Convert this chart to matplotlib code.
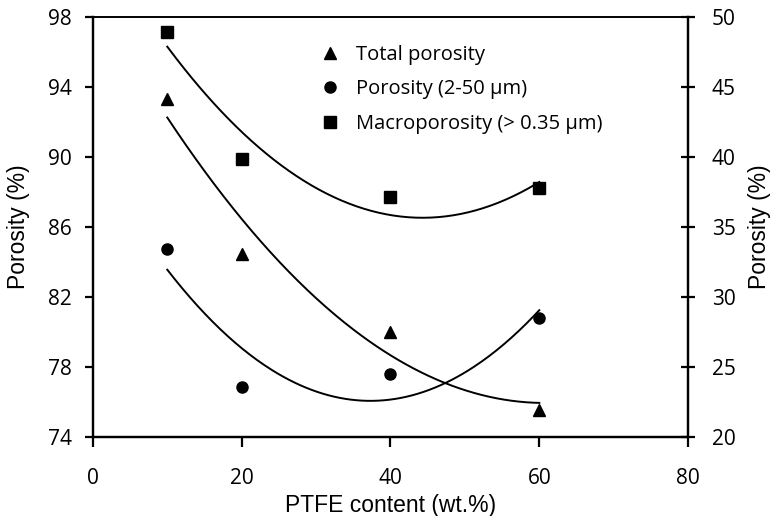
import numpy as np
import matplotlib
matplotlib.use("Agg")
import matplotlib.pyplot as plt

# PTFE content (wt.%)
ptfe = [10, 20, 40, 60]
# left axis
total_porosity = [93.3, 84.45, 80.0, 75.55]
# right axis
porosity_2_50 = [33.4, 23.6, 24.5, 28.5]
macroporosity = [48.9, 39.8, 37.15, 37.8]

tick_font = "Open Sans"
label_font = "Liberation Sans"


def trend(ax, x, y):
    # excel style 2nd order polynomial trendline
    c = np.polyfit(x, y, 2)
    xs = np.linspace(min(x), max(x), 200)
    ax.plot(xs, np.polyval(c, xs), color="black", lw=1.4, zorder=2)


fig = plt.figure(figsize=(7.74, 5.16), dpi=100)
ax = fig.add_axes([0.120, 0.153, 0.769, 0.815])
ax2 = ax.twinx()

h1, = ax.plot(ptfe, total_porosity, "^", color="black", ms=8.5, ls="none", label="Total porosity", zorder=3)
trend(ax, ptfe, total_porosity)
h2, = ax2.plot(ptfe, porosity_2_50, "o", color="black", ms=8, ls="none", label="Porosity (2-50 \u03bcm)", zorder=3)
trend(ax2, ptfe, porosity_2_50)
h3, = ax2.plot(ptfe, macroporosity, "s", color="black", ms=8, ls="none", label="Macroporosity (> 0.35 \u03bcm)", zorder=3)
trend(ax2, ptfe, macroporosity)

ax.set_xlim(0, 80)
ax.set_ylim(74, 98)
ax2.set_ylim(20, 50)
ax.set_xticks([0, 20, 40, 60, 80])
ax.set_yticks(np.arange(74, 99, 4))
ax2.set_yticks(np.arange(20, 51, 5))

for a in (ax, ax2):
    for s in a.spines.values():
        s.set_linewidth(1.6)
    a.spines["top"].set_linewidth(1.2)

ax.tick_params(axis="x", direction="out", length=7, width=1.6, pad=15, labelsize=15)
ax.tick_params(axis="y", direction="out", length=6, width=1.6, pad=9, labelsize=15)
ax2.tick_params(axis="y", direction="inout", length=10, width=1.6, pad=12, labelsize=15)
for lab in ax.get_xticklabels() + ax.get_yticklabels() + ax2.get_yticklabels():
    lab.set_fontfamily(tick_font)

ax.set_xlabel("PTFE content (wt.%)", fontsize=16.5, family=label_font, labelpad=4)
ax.set_ylabel("Porosity (%)", fontsize=16.5, family=label_font, labelpad=13)
ax2.set_ylabel("Porosity (%)", fontsize=16.5, family=label_font, labelpad=9)

ax2.legend(handles=[h1, h2, h3], loc="upper left", bbox_to_anchor=(0.378, 0.933),
           frameon=False, prop={"family": tick_font, "size": 14.5},
           handletextpad=0.7, labelspacing=0.72, handlelength=1.2, borderaxespad=0,
           borderpad=0)

fig.savefig("out.png", dpi=100)
